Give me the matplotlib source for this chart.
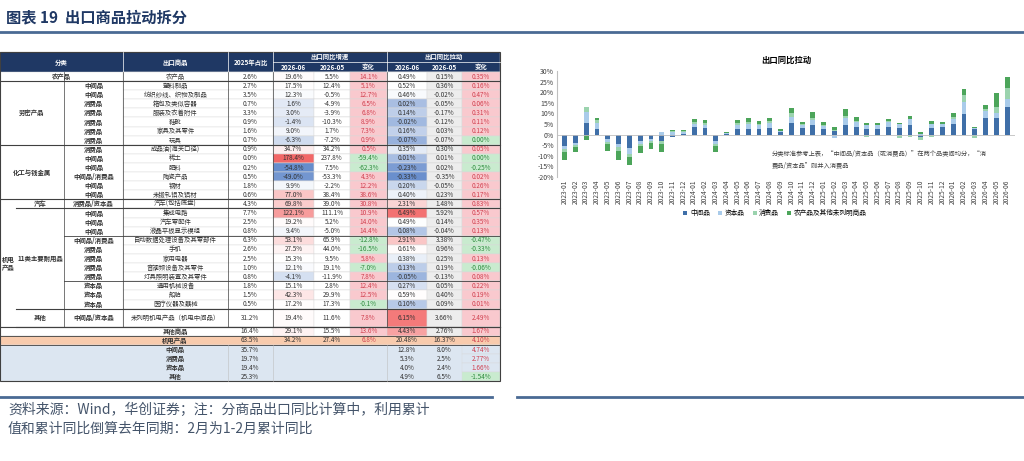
import matplotlib.pyplot as plt
import matplotlib.patches as mpatches
import numpy as np

plt.rcParams['font.family'] = ['Noto Sans CJK SC', 'DejaVu Sans']
plt.rcParams['axes.unicode_minus'] = False

# ---------------- data: table ----------------
# (分类1, 分类2, 类型, 出口商品, 2025年占比, 同比06, 同比05, 变化, 拉动06, 拉动05, 变化)
rows = [
    ('农产品', '', '', '农产品', 2.6, 19.6, 5.5, 14.1, 0.49, 0.15, 0.35),
    ('劳密产品', '', '中间品', '塑料制品', 2.7, 17.5, 12.4, 5.1, 0.52, 0.36, 0.16),
    ('劳密产品', '', '中间品', '纺织纱线、织物及制品', 3.5, 12.3, -0.5, 12.7, 0.46, -0.02, 0.47),
    ('劳密产品', '', '消费品', '箱包及类似容器', 0.7, 1.6, -4.9, 6.5, 0.02, -0.05, 0.06),
    ('劳密产品', '', '消费品', '服装及衣着附件', 3.3, 3.0, -3.9, 6.8, 0.14, -0.17, 0.31),
    ('劳密产品', '', '消费品', '鞋靴', 0.9, -1.4, -10.3, 8.9, -0.02, -0.12, 0.11),
    ('劳密产品', '', '消费品', '家具及其零件', 1.6, 9.0, 1.7, 7.3, 0.16, 0.03, 0.12),
    ('劳密产品', '', '消费品', '玩具', 0.7, -6.3, -7.2, 0.9, -0.07, -0.07, 0.00),
    ('化工与钱金属', '', '消费品', '成品油(海关口径)', 0.9, 34.7, 34.2, 0.5, 0.35, 0.30, 0.05),
    ('化工与钱金属', '', '中间品', '稀土', 0.0, 178.4, 237.8, -59.4, 0.01, 0.01, 0.00),
    ('化工与钱金属', '', '中间品', '肥料', 0.2, -54.8, 7.5, -62.3, -0.23, 0.02, -0.25),
    ('化工与钱金属', '', '中间品/消费品', '陶瓷产品', 0.5, -49.0, -53.3, 4.3, -0.33, -0.35, 0.02),
    ('化工与钱金属', '', '中间品', '钢材', 1.8, 9.9, -2.2, 12.2, 0.20, -0.05, 0.26),
    ('化工与钱金属', '', '中间品', '未锻轧铝及铝材', 0.6, 77.0, 38.4, 38.6, 0.40, 0.23, 0.17),
    ('机电产品', '汽车', '消费品/资本品', '汽车(包括底盘)', 4.3, 69.8, 39.0, 30.8, 2.31, 1.48, 0.83),
    ('机电产品', '11类主要耐用品', '中间品', '集成电路', 7.7, 122.1, 111.1, 10.9, 6.49, 5.92, 0.57),
    ('机电产品', '11类主要耐用品', '中间品', '汽车零配件', 2.5, 19.2, 5.2, 14.0, 0.49, 0.14, 0.35),
    ('机电产品', '11类主要耐用品', '中间品', '液晶平板显示模组', 0.8, 9.4, -5.0, 14.4, 0.08, -0.04, 0.13),
    ('机电产品', '11类主要耐用品', '中间品/消费品', '自动数据处理设备及其零部件', 6.3, 53.1, 65.9, -12.8, 2.91, 3.38, -0.47),
    ('机电产品', '11类主要耐用品', '消费品', '手机', 2.6, 27.5, 44.0, -16.5, 0.61, 0.96, -0.33),
    ('机电产品', '11类主要耐用品', '消费品', '家用电器', 2.5, 15.3, 9.5, 5.8, 0.38, 0.25, 0.13),
    ('机电产品', '11类主要耐用品', '消费品', '音视频设备及其零件', 1.0, 12.1, 19.1, -7.0, 0.13, 0.19, -0.06),
    ('机电产品', '11类主要耐用品', '消费品', '灯具照明装置及其零件', 0.8, -4.1, -11.9, 7.8, -0.05, -0.13, 0.08),
    ('机电产品', '11类主要耐用品', '资本品', '通用机械设备', 1.8, 15.1, 2.8, 12.4, 0.27, 0.05, 0.22),
    ('机电产品', '11类主要耐用品', '资本品', '船舶', 1.5, 42.3, 29.9, 12.5, 0.59, 0.40, 0.19),
    ('机电产品', '11类主要耐用品', '资本品', '医疗仪器及器械', 0.5, 17.2, 17.3, -0.1, 0.10, 0.09, 0.01),
    ('机电产品', '其他', '中间品/资本品', '未列明机电产品（机电中间品）', 31.2, 19.4, 11.6, 7.8, 6.15, 3.66, 2.49),
]
total_rows = [
    ('其他商品', 16.4, 29.1, 15.5, 13.6, 4.43, 2.76, 1.67),
    ('机电产品', 63.5, 34.2, 27.4, 6.8, 20.48, 16.37, 4.10),
]
summary_names = ['中间品', '消费品', '资本品', '其他']
summary_share = [35.7, 19.7, 19.4, 25.3]
summary_06 = [12.8, 5.3, 4.0, 4.9]
summary_05 = [8.0, 2.5, 2.4, 6.5]
summary_chg = [4.74, 2.77, 1.66, -1.54]

# ---------------- data: chart ----------------
months = ['2023-01', '2023-02', '2023-03', '2023-04', '2023-05', '2023-06', '2023-07', '2023-08',
          '2023-09', '2023-10', '2023-11', '2023-12', '2024-01', '2024-02', '2024-03', '2024-04',
          '2024-05', '2024-06', '2024-07', '2024-08', '2024-09', '2024-10', '2024-11', '2024-12',
          '2025-01', '2025-02', '2025-03', '2025-04', '2025-05', '2025-06', '2025-07', '2025-08',
          '2025-09', '2025-10', '2025-11', '2025-12', '2026-01', '2026-02', '2026-03', '2026-04',
          '2026-05', '2026-06']
inter = [-5.5, -4, 5.5, 2.8, -2, -4.5, -6.5, -3, -2, -3, -1, 0.5, 3.5, 3, -3, 0.3, 2.5, 2.8, 2.8, 3.3,
         1, 5.5, 3, 4.5, 2.5, 1.5, 4.5, 3.5, 2.8, 2.8, 3.8, 3, 4.5, -1, 3.2, 3.5, 5, 9.5, 2.5, 8, 8.0, 12.8]
capital = [-1.5, -1, 5, 2.5, -1.5, -1.5, -2.5, -1.5, -1, 1, 1, 0.5, 1.5, 1.5, -1.5, 0.3, 2, 2, 1.5, 2,
           0.5, 3, 1.3, 2.5, 1.5, -1.5, 3.5, 2.5, 1.5, 1.5, 2, 2, 3, 0.5, 2, 1.5, 2.5, 6, 0.5, 3, 2.4, 4.0]
consumer = [-1, -1, 2.5, 1.5, -1, -1.5, -1.5, -1, -1, -1.5, 0.5, 0.5, 1, 1, -1, 0.2, 1, 1, 0.7, 1,
            0.3, 1.5, 0.7, 1, 0.5, 0.5, 1, 0.5, -1, -0.5, 0.5, -1.5, -1, -1.5, -1, -0.5, 1, 3, -1.5, 1, 2.5, 5.3]
others = [-4, -2, -2.5, 1.2, -3, -4.5, -4, -3, -3, -3.5, 0.5, 0.5, 1.5, 1.5, -2.5, 0.3, 1.5, 2.2, 1.5, 1.7,
          0.7, 2.5, 1, 2.5, 1.5, 1.5, 3, 2, 1.2, 1.2, 1.2, 0.5, 1.5, 0.5, 1.3, 1, 1.5, 3, 0.5, 2, 6.5, 4.9]
series = [('中间品', inter, '#3F6FA8'), ('资本品', capital, '#A9CBEA'),
          ('消费品', consumer, '#9BD3AE'), ('农产品及其他未列明商品', others, '#4CA55A')]

NAVY = '#1F3864'
fig = plt.figure(figsize=(10.24, 4.61), dpi=100)
ax = fig.add_axes([0, 0, 1, 1])
ax.set_xlim(0, 1024)
ax.set_ylim(461, 0)
ax.axis('off')

# title and frame lines
ax.text(6, 17, '图表 19  出口商品拉动拆分', fontsize=11, fontweight='bold', color=NAVY, va='center')
ax.plot([0, 1024], [32, 32], color='#4A6A94', lw=2)
ax.plot([0, 492], [397, 397], color='#4A6A94', lw=2)
ax.plot([517, 1024], [397, 397], color='#4A6A94', lw=2)
ax.text(8, 410, '资料来源：Wind，华创证券；注：分商品出口同比计算中，利用累计', fontsize=10,
        style='italic', color='#44546A', va='center')
ax.text(8, 429, '值和累计同比倒算去年同期：2月为1-2月累计同比', fontsize=10,
        style='italic', color='#44546A', va='center')

# ---------------- table ----------------
FS = 4.6
top = 52
hh = 10
rh = 9.1


def cell(x0, x1, y0, y1, color):
    ax.add_patch(mpatches.Rectangle((x0, y0), x1 - x0, y1 - y0, facecolor=color,
                                    edgecolor='#D9D9D9', lw=0.3))


def txt(x, y, s, bold=False, color='#333333', ha='center'):
    ax.text(x, y, s, fontsize=FS, ha=ha, va='center', color=color,
            fontweight='bold' if bold else 'normal')


def heat(v, c, vmax, vmin):
    if v >= c:
        t = min((v - c) / (vmax - c), 1)
        r, g, b = 1 - 0.05 * t, 1 - 0.6 * t, 1 - 0.6 * t
    else:
        t = min((c - v) / (c - vmin), 1)
        r, g, b = 1 - 0.6 * t, 1 - 0.45 * t, 1 - 0.2 * t
    return (r, g, b)


def chg_color(v):
    return '#F9C9CE' if v > 0 else '#C9EBCF'


# header
cell(0, 500, top, top + 2 * hh, NAVY)
for x0, x1, s, y in [(0, 123, '分类', 1), (123, 228, '出口商品', 1), (228, 273, '2025年占比', 1),
                     (273, 387, '出口同比增速', 0), (387, 500, '出口同比拉动', 0)]:
    txt((x0 + x1) / 2, top + (hh if y else hh / 2), s, True, 'white')
cx = [273, 314, 350, 387, 427, 462, 500]
for i, s in enumerate(['2026-06', '2026-05', '变化', '2026-06', '2026-05', '变化']):
    txt((cx[i] + cx[i + 1]) / 2, top + 1.5 * hh, s, True, 'white')
for x in [123, 228, 273, 387]:
    ax.plot([x, x], [top, top + 2 * hh], color='white', lw=0.5)
ax.plot([273, 500], [top + hh, top + hh], color='white', lw=0.5)

y = top + 2 * hh
ys = []
for r in rows:
    h = rh * 2 if r[1] == '其他' else rh
    ys.append((y, y + h))
    y += h

for (y0, y1), r in zip(ys, rows):
    ym = (y0 + y1) / 2
    cell(123, 500, y0, y1, 'white')
    txt((123 + 228) / 2, ym, r[3])
    txt(250, ym, f'{r[4]:.1f}%', ha='center')
    cell(273, 314, y0, y1, heat(r[5], 15, 180, -55))
    txt((273 + 314) / 2, ym, f'{r[5]:.1f}%')
    cell(314, 350, y0, y1, 'white')
    txt((314 + 350) / 2, ym, f'{r[6]:.1f}%')
    cell(350, 387, y0, y1, chg_color(r[7]))
    txt((350 + 387) / 2, ym, f'{r[7]:.1f}%', color='#D0404F' if r[7] > 0 else '#2E8B3E')
    cell(387, 427, y0, y1, heat(r[8], 0.5, 7, -0.35))
    txt((387 + 427) / 2, ym, f'{r[8]:.2f}%')
    cell(427, 462, y0, y1, '#EDEDED')
    txt((427 + 462) / 2, ym, f'{r[9]:.2f}%')
    cell(462, 500, y0, y1, chg_color(r[10]))
    txt((462 + 500) / 2, ym, f'{r[10]:.2f}%', color='#D0404F' if r[10] > 0 else '#2E8B3E')
    if r[2]:
        txt((64 + 123) / 2, ym, r[2], True)


def span(pred):
    idx = [i for i, r in enumerate(rows) if pred(r)]
    return ys[idx[0]][0], ys[idx[-1]][1]


y0, y1 = span(lambda r: r[0] == '农产品')
txt(61, (y0 + y1) / 2, '农产品', True)
for g in ['劳密产品', '化工与钱金属']:
    y0, y1 = span(lambda r, g=g: r[0] == g)
    txt(32, (y0 + y1) / 2, g, True)
    ax.plot([0, 500], [y1, y1], color='#404040', lw=0.8)
for g in ['汽车', '11类主要耐用品', '其他']:
    y0, y1 = span(lambda r, g=g: r[1] == g)
    txt(40, (y0 + y1) / 2, g, True)
    ax.plot([16, 500], [y1, y1], color='#404040', lw=0.8)
y0, y1 = span(lambda r: r[0] == '机电产品')
txt(8, (y0 + y1) / 2 - 4, '机电', True)
txt(8, (y0 + y1) / 2 + 4, '产品', True)
ax.plot([0, 500], [ys[0][1], ys[0][1]], color='#404040', lw=0.8)
for k in [17, 22]:
    ax.plot([64, 500], [ys[k][1], ys[k][1]], color='#404040', lw=0.6)
ax.plot([0, 500], [y1, y1], color='#404040', lw=0.8)

# totals
y = y1
for name, *vals in total_rows:
    bg = '#F8CBAD' if name == '机电产品' else 'white'
    cell(0, 500, y, y + rh, bg)
    ym = y + rh / 2
    txt(175, ym, name, True)
    txt(250, ym, f'{vals[0]:.1f}%')
    cols = [(273, 314, f'{vals[1]:.1f}%'), (314, 350, f'{vals[2]:.1f}%'), (350, 387, f'{vals[3]:.1f}%'),
            (387, 427, f'{vals[4]:.2f}%'), (427, 462, f'{vals[5]:.2f}%'), (462, 500, f'{vals[6]:.2f}%')]
    for j, (a, b, s) in enumerate(cols):
        if name != '机电产品':
            if j == 0:
                cell(a, b, y, y + rh, heat(vals[1], 15, 180, -55))
            elif j == 3:
                cell(a, b, y, y + rh, heat(vals[4], 0.5, 7, -0.35))
            elif j in (2, 5):
                cell(a, b, y, y + rh, chg_color(vals[j + 1]))
            elif j == 4:
                cell(a, b, y, y + rh, '#EDEDED')
        col = '#D0404F' if j in (2, 5) else '#333333'
        txt((a + b) / 2, ym, s, color=col)
    y += rh
    ax.plot([0, 500], [y, y], color='#404040', lw=0.6)

sy0 = y
cell(0, 500, y, y + 4 * rh, '#DCE6F1')
for i, n in enumerate(summary_names):
    ym = y + rh / 2
    txt(175, ym, n, True)
    txt(250, ym, f'{summary_share[i]:.1f}%')
    txt(407, ym, f'{summary_06[i]:.1f}%')
    txt(444, ym, f'{summary_05[i]:.1f}%')
    cell(462, 500, y, y + rh, '#C9EBCF' if summary_chg[i] < 0 else '#DCE6F1')
    txt(481, ym, f'{summary_chg[i]:.2f}%', color='#D0404F' if summary_chg[i] > 0 else '#2E8B3E')
    y += rh
for x in [228, 273, 387]:
    ax.plot([x, x], [sy0, y], color='#BFBFBF', lw=0.4)
ax.add_patch(mpatches.Rectangle((0, top), 500, y - top, fill=False, edgecolor='#404040', lw=0.8))
for x in [64, 123, 228, 273, 387]:
    ax.plot([x, x], [top + 2 * hh, sy0 - 2 * rh], color='#404040', lw=0.5)

# ---------------- chart ----------------
cax = fig.add_axes([0.544, 0.616, 0.447, 0.23])
x = np.arange(len(months))
pos_base = np.zeros(len(months))
neg_base = np.zeros(len(months))
handles = []
for name, vals, color in series:
    v = np.array(vals, dtype=float)
    base = np.where(v >= 0, pos_base, neg_base)
    b = cax.bar(x, v, 0.45, bottom=base, color=color, label=name)
    handles.append(b)
    pos_base += np.where(v >= 0, v, 0)
    neg_base += np.where(v < 0, v, 0)
cax.set_ylim(-20, 30)
cax.set_yticks(range(-20, 31, 5))
cax.set_yticklabels([f'{t}%' for t in range(-20, 31, 5)], fontsize=5)
cax.set_xticks(x)
cax.set_xticklabels(months, rotation=90, fontsize=4.8)
cax.set_xlim(-0.7, len(months) - 0.3)
cax.axhline(0, color='#BFBFBF', lw=0.6)
for s in ['top', 'right', 'bottom']:
    cax.spines[s].set_visible(False)
cax.spines['left'].set_color('#BFBFBF')
cax.tick_params(length=0, pad=2, colors='#404040')
cax.set_title('出口同比拉动', fontsize=6, fontweight='bold', pad=6)
cax.text(0.47, 0.22, '分类标准参考上表，“中间品/资本品（或消费品）”在两个品类间均分，“消',
         transform=cax.transAxes, fontsize=4.5, style='italic', color='#404040', va='center')
cax.text(0.47, 0.1, '费品/资本品”则并入消费品', transform=cax.transAxes, fontsize=4.5,
         style='italic', color='#404040', va='center')
fig.legend(handles=handles, loc='center', bbox_to_anchor=(775 / 1024, 1 - 213 / 461), ncol=4,
           fontsize=4.8, frameon=False, handlelength=0.6, handleheight=0.6, columnspacing=1.2,
           handletextpad=0.4)

fig.savefig('out.png', dpi=100, facecolor='white')
